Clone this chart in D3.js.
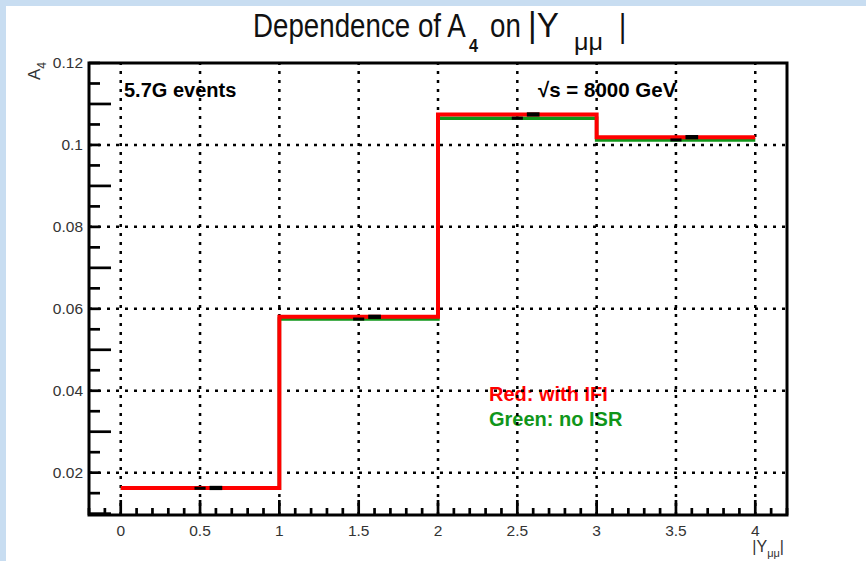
<!DOCTYPE html>
<html>
<head>
<meta charset="utf-8">
<script src="https://cdn.jsdelivr.net/npm/d3@7"></script>
<style>
  body { margin: 0; background: #fff; }
  svg text { font-family: "Liberation Sans", Arial, sans-serif; }
</style>
</head>
<body>
<div id="chart"></div>
<script>
"use strict";

// bins of |Y_mumu|
var binEdges = [0, 1, 2, 3, 4];

// A4 with IFI (red) and without ISR (green)
var redValues   = [0.01627, 0.05805, 0.10745, 0.1019];
var redErrors   = [0.00052, 0.00052, 0.00052, 0.00052];
var greenValues = [0.0162, 0.0575, 0.10652, 0.10122];
var greenErrors = [0.00037, 0.00037, 0.00037, 0.00037];

var xTickValues = [0, 0.5, 1, 1.5, 2, 2.5, 3, 3.5, 4];
var xTickLabels = ["0", "0.5", "1", "1.5", "2", "2.5", "3", "3.5", "4"];
var yTickValues = [0.02, 0.04, 0.06, 0.08, 0.1, 0.12];
var yTickLabels = ["0.02", "0.04", "0.06", "0.08", "0.1", "0.12"];

var width = 866, height = 561;
var frame = {left: 89, right: 787, top: 63, bottom: 515};
var redShift = 0.1;   // red error markers are drawn a bit to the right

var svg = d3.select("#chart").append("svg")
	.attr("width", width)
	.attr("height", height);

// light blue canvas border
svg.append("rect").attr("x", 0).attr("y", 0).attr("width", width).attr("height", height).attr("fill", "#c8ddf1");
svg.append("rect").attr("x", 6).attr("y", 6).attr("width", width - 6).attr("height", height - 6).attr("fill", "#fff");

var x = d3.scaleLinear().domain([-0.2, 4.2]).range([frame.left, frame.right]);
var y = d3.scaleLinear().domain([0.00967, 0.12]).range([frame.bottom, frame.top]);

// texts (drawn first, grid goes on top of them)
svg.append("text")
	.attr("x", 124).attr("y", 97)
	.style("font-size", "20px").style("font-weight", "bold")
	.text("5.7G events");

svg.append("text")
	.attr("x", 538).attr("y", 97)
	.style("font-size", "20.5px").style("font-weight", "bold")
	.text("\u221As = 8000 GeV");

svg.append("text")
	.attr("x", 489).attr("y", 401)
	.style("font-size", "20px").style("font-weight", "bold")
	.style("fill", "#ff0000")
	.text("Red: with IFI");

svg.append("text")
	.attr("x", 489).attr("y", 426)
	.style("font-size", "20px").style("font-weight", "bold")
	.style("fill", "#10961a")
	.text("Green: no ISR");

// grid
var grid = svg.append("g")
	.attr("stroke", "#000")
	.attr("stroke-width", 2.5)
	.attr("stroke-dasharray", "3,6");

grid.selectAll(".gx")
	.data(xTickValues)
	.enter().append("line")
	.attr("x1", function(d) { return x(d); })
	.attr("x2", function(d) { return x(d); })
	.attr("y1", frame.bottom)
	.attr("y2", frame.top);

grid.selectAll(".gy")
	.data(yTickValues.filter(function(d) { return d < 0.119; }))
	.enter().append("line")
	.attr("y1", function(d) { return y(d); })
	.attr("y2", function(d) { return y(d); })
	.attr("x1", frame.left)
	.attr("x2", frame.right);

// histograms as step lines
function stepPoints(values) {
	var pts = values.map(function(v, i) { return [binEdges[i], v]; });
	pts.push([binEdges[binEdges.length - 1], values[values.length - 1]]);
	return pts;
}

var line = d3.line()
	.curve(d3.curveStepAfter)
	.x(function(d) { return x(d[0]); })
	.y(function(d) { return y(d[1]); });

svg.append("path")
	.attr("d", line(stepPoints(greenValues)))
	.attr("fill", "none")
	.attr("stroke", "#10961a")
	.attr("stroke-width", 3.5);

svg.append("path")
	.attr("d", line(stepPoints(redValues)))
	.attr("fill", "none")
	.attr("stroke", "#ff0000")
	.attr("stroke-width", 4);

// error markers
function drawErrors(values, errors, shift, halfWidth) {
	svg.append("g").selectAll("rect")
		.data(values)
		.enter().append("rect")
		.attr("x", function(d, i) { return x((binEdges[i] + binEdges[i + 1]) / 2 + shift - halfWidth); })
		.attr("width", function() { return x(halfWidth * 2) - x(0); })
		.attr("y", function(d, i) { return y(d + errors[i]); })
		.attr("height", function(d, i) { return y(d - errors[i]) - y(d + errors[i]); })
		.attr("fill", "#000");
}
drawErrors(greenValues, greenErrors, 0, 0.035);
drawErrors(redValues, redErrors, redShift, 0.04);

// axes ticks
var ticks = svg.append("g").attr("stroke", "#000").attr("stroke-width", 2.7);

var xMinor = d3.range(-2, 43).map(function(i) { return i / 10; });
ticks.selectAll(".tx")
	.data(xMinor)
	.enter().append("line")
	.attr("x1", function(d) { return x(d); })
	.attr("x2", function(d) { return x(d); })
	.attr("y1", frame.bottom)
	.attr("y2", function(d, i) { return (i - 2) % 5 === 0 ? frame.bottom - 15 : frame.bottom - 7; });

var yMinor = d3.range(2, 25).map(function(i) { return i * 0.005; });
ticks.selectAll(".ty")
	.data(yMinor)
	.enter().append("line")
	.attr("y1", function(d) { return y(d); })
	.attr("y2", function(d) { return y(d); })
	.attr("x1", frame.left)
	.attr("x2", function(d, i) { return i % 4 === 0 ? frame.left + 22 : frame.left + 11; });

// frame
svg.append("rect")
	.attr("x", frame.left).attr("y", frame.top)
	.attr("width", frame.right - frame.left)
	.attr("height", frame.bottom - frame.top)
	.attr("fill", "none")
	.attr("stroke", "#000")
	.attr("stroke-width", 3);

// tick labels
svg.append("g").selectAll("text")
	.data(xTickValues)
	.enter().append("text")
	.attr("x", function(d) { return x(d); })
	.attr("y", 536)
	.attr("text-anchor", "middle")
	.style("font-size", "15.5px")
	.style("fill", "#333")
	.text(function(d, i) { return xTickLabels[i]; });

svg.append("g").selectAll("text")
	.data(yTickValues)
	.enter().append("text")
	.attr("x", 83)
	.attr("y", function(d) { return y(d) + 5; })
	.attr("text-anchor", "end")
	.style("font-size", "15.5px")
	.style("fill", "#333")
	.text(function(d, i) { return yTickLabels[i]; });

// axis titles
var xTitle = svg.append("text")
	.attr("x", 784).attr("y", 552)
	.attr("text-anchor", "end")
	.style("font-size", "16px")
	.style("fill", "#333");
xTitle.append("tspan").text("|Y");
xTitle.append("tspan").attr("dy", 5).style("font-size", "11px").text("\u03BC\u03BC");
xTitle.append("tspan").attr("dy", -5).text("|");

var yTitle = svg.append("text")
	.attr("transform", "translate(40,62) rotate(-90)")
	.attr("text-anchor", "end")
	.style("font-size", "17px")
	.style("fill", "#333");
yTitle.append("tspan").text("A");
yTitle.append("tspan").attr("dy", 6).style("font-size", "12px").text("4");

// title, pieces placed like ROOT's TLatex does
var title = svg.append("g").style("fill", "#111");
function titlePiece(px, py, str, size, bold, sx) {
	title.append("text")
		.attr("transform", "translate(" + px + "," + py + ") scale(" + sx + ",1)")
		.style("font-size", size + "px")
		.style("font-weight", bold ? "bold" : "normal")
		.text(str);
}
titlePiece(253, 37, "Dependence of A", 33, false, 0.84);
titlePiece(469, 52, "4", 18, true, 0.9);
titlePiece(490, 37, "on", 33, false, 0.84);
titlePiece(528, 37, "|Y", 35, false, 0.95);
titlePiece(574, 50, "\u03BC\u03BC", 24, false, 1.05);
titlePiece(619, 37, "|", 33, false, 0.84);
</script>
</body>
</html>
